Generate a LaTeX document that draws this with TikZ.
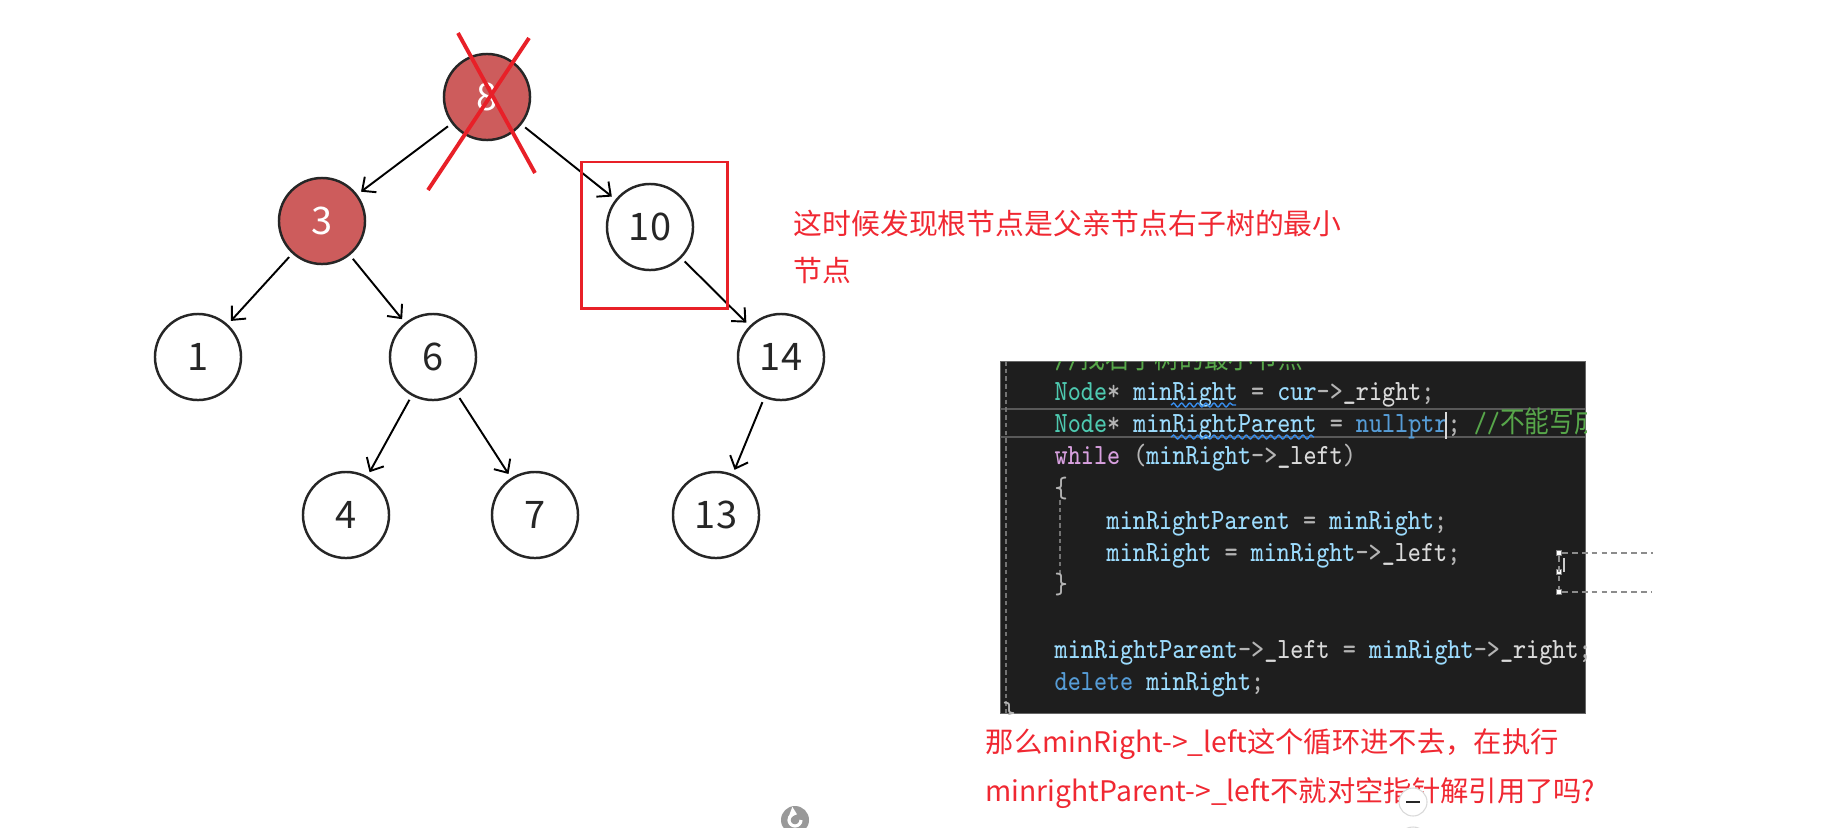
\documentclass[tikz,border=0pt]{standalone}
\usepackage{fontspec}
\newfontfamily\cjk{Noto Sans CJK SC}
\newfontfamily\codefont{Latin Modern Mono}[FakeStretch=0.84]
\newfontfamily\codecjk{Noto Sans CJK SC}[FakeStretch=0.84]
\usetikzlibrary{arrows.meta,decorations.pathmorphing}

\definecolor{nodered}{RGB}{205,92,92}
\definecolor{markred}{RGB}{232,32,40}
\definecolor{notered}{RGB}{240,40,50}
\definecolor{codebg}{RGB}{30,30,30}
\definecolor{codetype}{RGB}{78,201,176}
\definecolor{codevar}{RGB}{156,220,254}
\definecolor{codeop}{RGB}{180,180,180}
\definecolor{codemem}{RGB}{218,218,218}
\definecolor{codekey}{RGB}{86,156,214}
\definecolor{codeflow}{RGB}{216,160,223}
\definecolor{codecom}{RGB}{87,166,74}
\definecolor{squig}{RGB}{55,140,235}

\newcommand{\ctype}[1]{\textcolor{codetype}{#1}}
\newcommand{\cvar}[1]{\textcolor{codevar}{#1}}
\newcommand{\cmem}[1]{\textcolor{codemem}{#1}}
\newcommand{\ckey}[1]{\textcolor{codekey}{#1}}
\newcommand{\cflow}[1]{\textcolor{codeflow}{#1}}
\newcommand{\ccom}[1]{\textcolor{codecom}{#1}}

\tikzset{
  treenode/.style={circle, draw=black!85, line width=0.7pt, minimum size=0.86cm, inner sep=0pt,
    text=black!85, font=\cjk\fontsize{10.8}{12}\selectfont},
  delnode/.style={treenode, fill=nodered, text=white},
  link/.style={-{Straight Barb[length=3pt,width=5.5pt]}, line width=0.55pt, shorten <=1.3pt, shorten >=1.3pt},
  cross/.style={markred, line width=1.1pt},
  note/.style={anchor=base west, inner sep=0pt, text=notered, font=\cjk\fontsize{8.2}{10}\selectfont},
  asknote/.style={note, font=\cjk\fontsize{8.05}{10}\selectfont},
  codeline/.style={anchor=base west, inner sep=0pt, text=codeop, font=\codefont\fontsize{8.35}{9}\selectfont},
  guide/.style={black!55, line width=0.45pt, dash pattern=on 1.3pt off 0.9pt},
  squiggle/.style={squig, line width=0.4pt, decorate, decoration={snake, segment length=2.3pt, amplitude=0.55pt}},
  selbox/.style={black!45, line width=0.55pt, dash pattern=on 1.6pt off 1.2pt},
  handle/.style={rectangle, fill=white, draw=black!50, line width=0.3pt, minimum size=1.5pt, inner sep=0pt},
}

\begin{document}
\begin{tikzpicture}[x=0.01cm, y=-0.01cm]
  \useasboundingbox (0,0) rectangle (1845,827);

  % Define nodes
  \node[delnode]  (n8)  at (487,97)  {8};
  \node[delnode]  (n3)  at (322,221) {3};
  \node[treenode] (n10) at (650,227) {10};
  \node[treenode] (n1)  at (198,357) {1};
  \node[treenode] (n6)  at (433,357) {6};
  \node[treenode] (n14) at (781,357) {14};
  \node[treenode] (n4)  at (346,515) {4};
  \node[treenode] (n7)  at (535,515) {7};
  \node[treenode] (n13) at (716,515) {13};

  % Connect the nodes
  \draw[link] (n8) -- (n3);
  \draw[link] (n8) -- (n10);
  \draw[link] (n3) -- (n1);
  \draw[link] (n3) -- (n6);
  \draw[link] (n10) -- (n14);
  \draw[link] (n6) -- (n4);
  \draw[link] (n6) -- (n7);
  \draw[link] (n14) -- (n13);

  % root is crossed out, 10 is boxed
  \draw[cross] ([shift={(-29,-64)}]n8.center) -- ([shift={(48,76)}]n8.center);
  \draw[cross] ([shift={(42,-59)}]n8.center) -- ([shift={(-59,93)}]n8.center);
  \draw[markred, line width=0.85pt] ([shift={(-69,-65)}]n10.center) rectangle ([shift={(77,81)}]n10.center);

  \node[note] (hint1) at (793,234) {这时候发现根节点是父亲节点右子树的最小};
  \node[note] (hint2) at (793,281) {节点};

  % code screenshot
  \node[fill=codebg, draw=black!60, line width=0.3pt, minimum width=5.85cm, minimum height=3.52cm,
    inner sep=0pt, anchor=north west] (code) at (1000,361) {};
  \begin{scope}
    \clip (code.north west) rectangle (code.south east);
    \draw[black!65, line width=0.7pt] (1000,409) -- (1585,409);
    \draw[black!65, line width=0.7pt] (1000,437) -- (1585,437);
    \draw[guide] (1006,361) -- (1006,713);
    \draw[guide] (1060,500) -- (1060,575);
    \node[codeline] (c0)  at (1054,368) {\ccom{//{\codecjk 找右子树的最小节点}}};
    \node[codeline] (c1)  at (1054,400) {\ctype{Node}* \cvar{minRight} = \cvar{cur}->\cmem{\_right};};
    \node[codeline] (c2)  at (1054,432) {\ctype{Node}* \cvar{minRightParent} = \ckey{nullptr}; \ccom{//{\codecjk 不能写成}}};
    \node[codeline] (c3)  at (1054,464) {\cflow{while} (\cvar{minRight}->\cmem{\_left})};
    \node[codeline] (c4)  at (1054,497) {\{};
    \node[codeline] (c5)  at (1106,529) {\cvar{minRightParent} = \cvar{minRight};};
    \node[codeline] (c6)  at (1106,561) {\cvar{minRight} = \cvar{minRight}->\cmem{\_left};};
    \node[codeline] (c7)  at (1054,593) {\}};
    \node[codeline] (c9)  at (1054,658) {\cvar{minRightParent}->\cmem{\_left} = \cvar{minRight}->\cmem{\_right};};
    \node[codeline] (c10) at (1054,690) {\ckey{delete} \cvar{minRight};};
    \node[codeline] (c11) at (1002,722) {\}};
    \draw[squiggle] (1171,405) -- (1236,405);
    \draw[squiggle] (1171,437) -- (1314,437);
    \draw[white!85!black, line width=0.6pt] (1446,412) -- (1446,439);
  \end{scope}

  % selection frame
  \node[handle] (h1) at (1559,553) {};
  \node[handle] (h2) at (1559,572) {};
  \node[handle] (h3) at (1559,592) {};
  \coordinate (e1) at (1653,553);
  \coordinate (e3) at (1651,592);
  \draw[selbox] (h1) -- (e1);
  \draw[selbox] (h3) -- (e3);
  \draw[selbox] (h1) -- (h3);
  \draw[white!80!black, line width=0.5pt] (1564,558) -- (1564,572);

  \node[asknote] (ask1) at (985,752) {那么minRight->\_left这个循环进不去，在执行};
  \node[asknote] (ask2) at (985,801) {minrightParent->\_left不就对空指针解引用了吗?};

  % page buttons
  \node[circle, fill=black!40, minimum size=0.28cm, inner sep=0pt] (reload) at (795,820) {};
  \draw[white, line width=0.9pt, -{Triangle[length=2pt,width=3pt]}]
    ([shift={(6,0)}]reload.center) arc[start angle=0, end angle=290, radius=6];
  \node[circle, fill=white, draw=black!15, line width=0.3pt, minimum size=0.3cm, inner sep=0pt] (btn2) at (1413,842) {};
  \node[circle, fill=white, draw=black!15, line width=0.3pt, minimum size=0.28cm, inner sep=0pt] (zoombtn) at (1413,802) {};
  \draw[black!85, line width=0.8pt] ([shift={(-7,0)}]zoombtn.center) -- ([shift={(7,0)}]zoombtn.center);
\end{tikzpicture}
\end{document}
